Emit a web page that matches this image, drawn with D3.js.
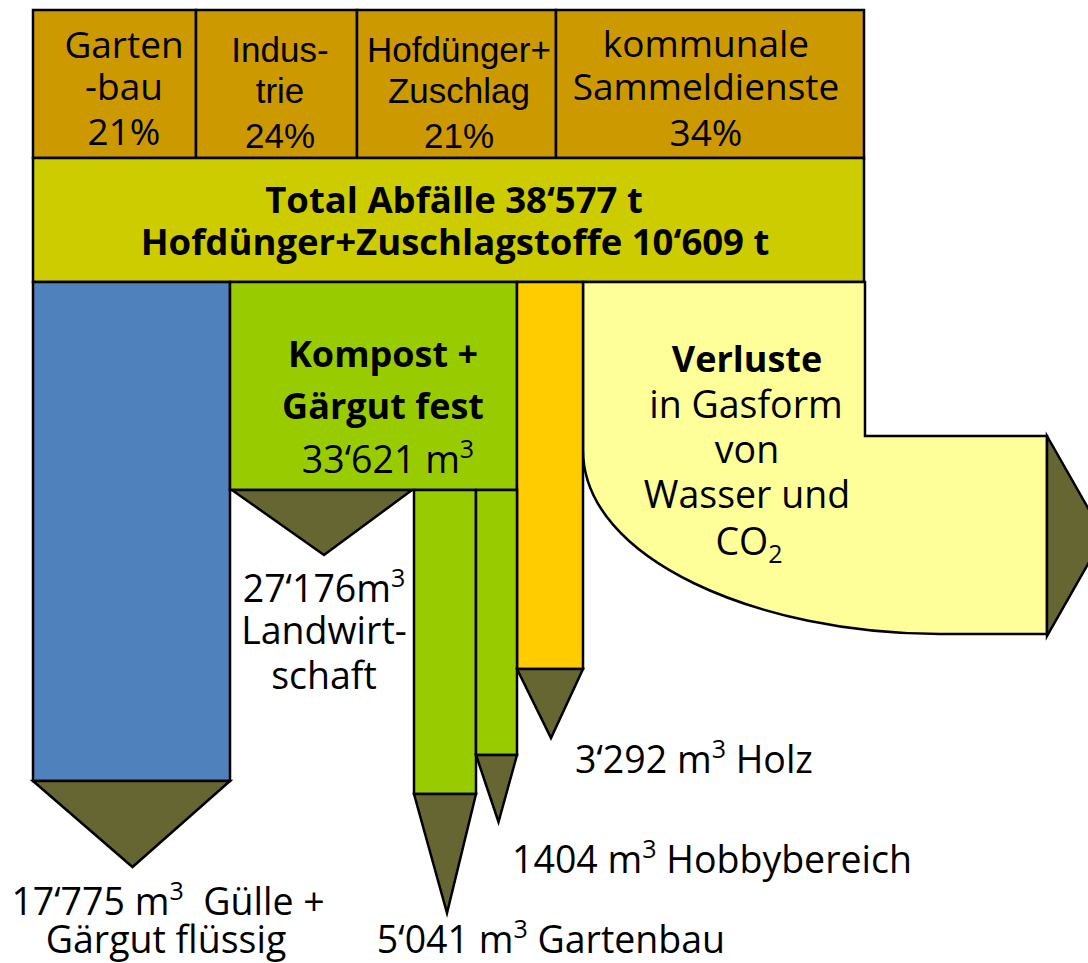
<!DOCTYPE html>
<html>
<head>
<meta charset="utf-8">
<title>Kompostierung Stoffflüsse</title>
<style>
  body{margin:0;background:#fff;}
  svg{display:block;}
  text{font-family:"Open Sans",sans-serif;fill:#000;}
  text.arial{font-family:"Liberation Sans",Arial,sans-serif;}
</style>
</head>
<body>
<script src="https://cdn.jsdelivr.net/npm/d3@7"></script>
<script>
// --- Daten ---
var sourceNames = ["Gartenbau", "Industrie", "Hofdünger+Zuschlag", "kommunale Sammeldienste"];
var sourceLines = [["Garten", "-bau"], ["Indus-", "trie"], ["Hofdünger+", "Zuschlag"], ["kommunale", "Sammeldienste"]];
var sourceShares = [21, 24, 21, 34];

var totalLabels = ["Total Abfälle", "Hofdünger+Zuschlagstoffe"];
var totalTonnes = [38577, 10609];

var flowNames = ["Gülle + Gärgut flüssig", "Kompost + Gärgut fest", "Holz", "Verluste"];
var flowVolumes = [17775, 33621, 3292, null];

var compostNames = ["Landwirtschaft", "Gartenbau", "Hobbybereich"];
var compostVolumes = [27176, 5041, 1404];

// --- Layout (schematisch, nicht massstäblich) ---
var W = 1088, H = 963;
var left = 33, right = 864;
var yTop = 10, yBand = 158, yFlow = 282;

var colX = d3.scaleOrdinal().domain(sourceNames).range([33, 196, 357, 556]);
var colCenter = d3.scaleOrdinal().domain(sourceNames).range([124, 280, 459, 706]);

// Flussbalken: [x0, x1], Ende, Pfeilspitze
var flowX = d3.scaleOrdinal().domain(flowNames).range([[33, 230], [230, 517], [517, 583], [583, 865]]);
var flowEnd = d3.scaleOrdinal().domain(flowNames).range([781, 490, 669, null]);
var flowTip = d3.scaleOrdinal().domain(flowNames).range([867, 555, 738, null]);

var compostX = d3.scaleOrdinal().domain(compostNames).range([[232, 412], [414, 476], [476, 517]]);
var compostEnd = d3.scaleOrdinal().domain(compostNames).range([490, 794, 755]);
var compostTip = d3.scaleOrdinal().domain(compostNames).range([555, 913, 822]);

var col = {
  source: "#cc9900", band: "#cccc00", blue: "#4f81bd", green: "#99cc00",
  orange: "#ffcc00", gas: "#ffff99", arrow: "#666633"
};
var flowFill = d3.scaleOrdinal().domain(flowNames).range([col.blue, col.green, col.orange, col.gas]);
var arialCols = ["Industrie", "Hofdünger+Zuschlag"];

// Zahlen mit ‘ als Tausendertrennzeichen
var fmt = d3.formatLocale({decimal: ".", thousands: "‘", grouping: [3], currency: ["", ""]}).format(",d");
var fmtPlain = d3.format("d"); // 1404 steht im Original ohne Trenner

var svg = d3.select("body").append("svg").attr("width", W).attr("height", H);

function poly(pts, fill) {
  return svg.append("path")
    .attr("d", d3.line()(pts) + "Z")
    .attr("fill", fill).attr("stroke", "#000").attr("stroke-width", 2.5)
    .attr("stroke-linejoin", "miter");
}

// Text mit hoch-/tiefgestellten Teilen
function label(x, y, parts, opt) {
  opt = opt || {};
  var t = svg.append("text").attr("x", x).attr("y", y)
    .attr("text-anchor", "middle")
    .attr("font-size", opt.size || 37.5)
    .attr("font-weight", opt.bold ? "bold" : null)
    .attr("class", opt.cls || null)
    .style("white-space", "pre");
  var shift = 0;
  parts.forEach(function(p) {
    if (typeof p === "string") {
      t.append("tspan").attr("dy", -shift || null).text(p);
      shift = 0;
    } else if (p.sup) {
      t.append("tspan").attr("dy", -15).attr("font-size", 25).text(p.sup);
      shift = -15;
    } else if (p.sub) {
      t.append("tspan").attr("dy", 8).attr("font-size", 25).text(p.sub);
      shift = 8;
    }
  });
  return t;
}

// --- Herkunft (oben) ---
sourceNames.forEach(function(n, i) {
  var x0 = colX(n), x1 = i < sourceNames.length - 1 ? colX(sourceNames[i + 1]) : right;
  poly([[x0, yTop], [x1, yTop], [x1, yBand], [x0, yBand]], col.source);
});
var lineY = [[58, 100, 145], [62, 103, 148], [62, 103, 148], [57, 100, 146]];
sourceNames.forEach(function(n, i) {
  var cls = arialCols.indexOf(n) >= 0 ? "arial" : null;
  var size = cls ? 35 : 37;
  label(colCenter(n), lineY[i][0], [sourceLines[i][0]], {cls: cls, size: size});
  label(colCenter(n), lineY[i][1], [sourceLines[i][1]], {cls: cls, size: size});
  label(colCenter(n), lineY[i][2], [sourceShares[i] + "%"], {cls: cls, size: size});
});

// --- Total ---
poly([[left, yBand], [right, yBand], [right, yFlow], [left, yFlow]], col.band);
label(454, 213, [totalLabels[0] + " " + fmt(totalTonnes[0]) + " t"], {bold: true, size: 36.5});
label(455, 255, [totalLabels[1] + " " + fmt(totalTonnes[1]) + " t"], {bold: true, size: 36.5});

// --- Verluste (Gasform) ---
var gx = flowX("Verluste");
var gas = d3.path();
gas.moveTo(gx[0], yFlow);
gas.lineTo(gx[1], yFlow);
gas.lineTo(gx[1], 436);
gas.lineTo(1047, 436);
gas.lineTo(1047, 634);
gas.lineTo(940, 634);
gas.bezierCurveTo(760, 634, gx[0], 560, gx[0], 450);
gas.closePath();
svg.append("path").attr("d", gas.toString())
  .attr("fill", col.gas).attr("stroke", "#000").attr("stroke-width", 2.5);
poly([[1047, 436], [1104, 536], [1047, 636]], col.arrow);

// --- Flussbalken ---
flowNames.slice(0, 3).forEach(function(n) {
  var x = flowX(n), y1 = flowEnd(n);
  poly([[x[0], yFlow], [x[1], yFlow], [x[1], y1], [x[0], y1]], flowFill(n));
});

// Kompost-Unterflüsse
compostNames.slice(1).forEach(function(n) {
  var x = compostX(n);
  poly([[x[0], 490], [x[1], 490], [x[1], compostEnd(n)], [x[0], compostEnd(n)]], col.green);
});

// Pfeilspitzen
flowNames.slice(0, 3).forEach(function(n) {
  var x = flowX(n), y1 = flowEnd(n), tip = flowTip(n);
  if (n === "Kompost + Gärgut fest") return;
  poly([[x[0], y1], [x[1], y1], [(x[0] + x[1]) / 2 + 1, tip]], col.arrow);
});
compostNames.forEach(function(n) {
  var x = compostX(n), y1 = compostEnd(n), tip = compostTip(n);
  poly([[x[0], y1], [x[1], y1], [(x[0] + x[1]) / 2 + 2, tip]], col.arrow);
});

// --- Beschriftungen ---
label(383, 367, ["Kompost +"], {bold: true, size: 36});
label(383, 419, ["Gärgut fest"], {bold: true, size: 36});
label(388, 473, [fmt(flowVolumes[1]) + " m", {sup: "3"}]);

label(747, 372, ["Verluste"], {bold: true, size: 36});
label(746, 418, ["in Gasform"]);
label(747, 463, ["von"]);
label(747, 508, ["Wasser und"]);
label(749, 555, ["CO", {sub: "2"}]);

label(324, 602, [fmt(compostVolumes[0]) + "m", {sup: "3"}]);
label(324, 644, ["Landwirt-"]);
label(324, 689, ["schaft"]);

label(168, 915, [fmt(flowVolumes[0]) + " m", {sup: "3"}, "  Gülle +"]);
label(166, 953, ["Gärgut flüssig"]);

label(551, 953, [fmt(compostVolumes[1]) + " m", {sup: "3"}, " Gartenbau"]);
label(712, 873, [fmtPlain(compostVolumes[2]) + " m", {sup: "3"}, " Hobbybereich"]);
label(694, 773, [fmt(flowVolumes[2]) + " m", {sup: "3"}, " Holz"]);
</script>
</body>
</html>
